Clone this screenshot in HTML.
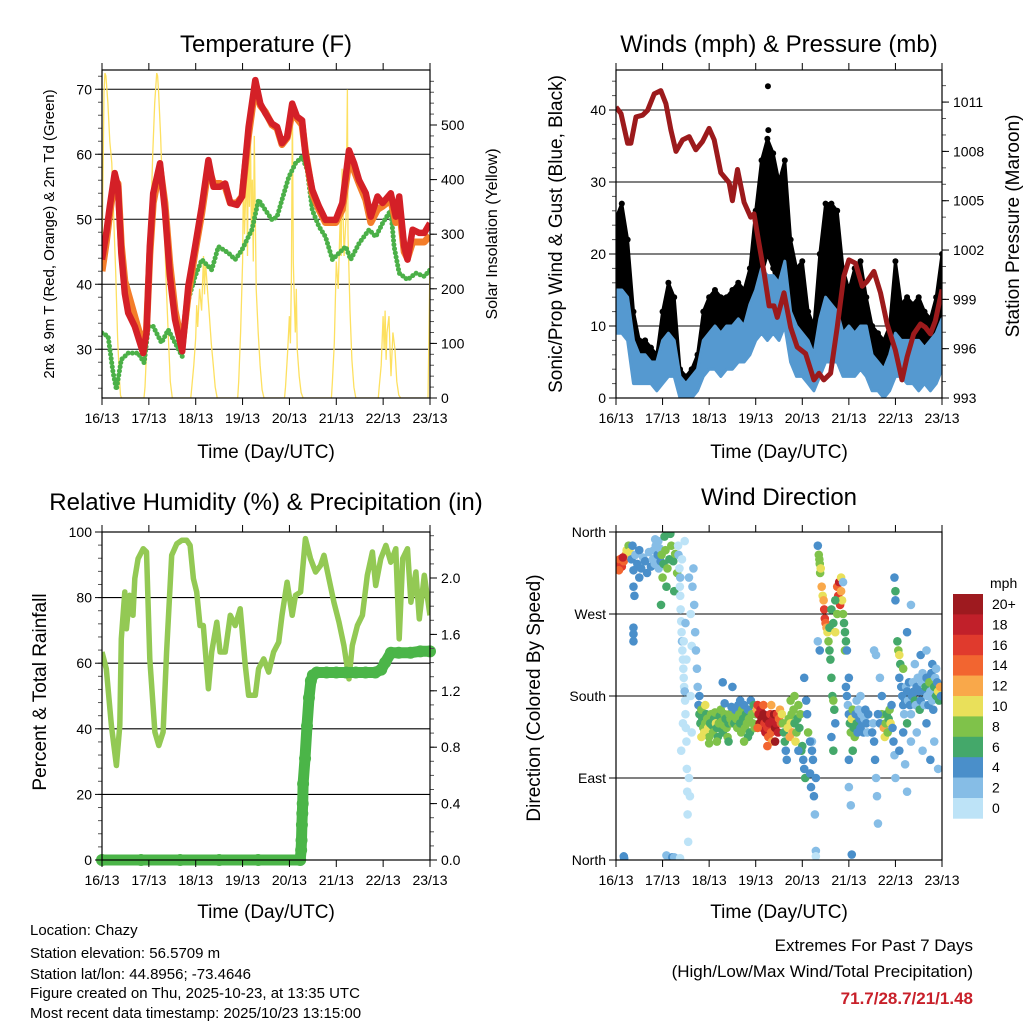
<!DOCTYPE html>
<html><head><meta charset="utf-8"><title>Chazy station charts</title>
<style>
html,body{margin:0;padding:0;background:#fff;}
svg{display:block;font-family:"Liberation Sans",Arial,sans-serif;}
</style></head>
<body>
<svg id="chart" xmlns="http://www.w3.org/2000/svg" width="1024" height="1024" viewBox="0 0 1024 1024">
<rect x="0" y="0" width="1024" height="1024" fill="#fff"/>
<text x="266" y="52" font-size="24" text-anchor="middle">Temperature (F)</text>
<text x="779" y="52" font-size="24" text-anchor="middle">Winds (mph) &amp; Pressure (mb)</text>
<text x="266" y="510" font-size="24" text-anchor="middle">Relative Humidity (%) &amp; Precipitation (in)</text>
<text x="779" y="505" font-size="24" text-anchor="middle">Wind Direction</text>
<text x="266" y="458" font-size="19" text-anchor="middle">Time (Day/UTC)</text>
<text x="779" y="458" font-size="19" text-anchor="middle">Time (Day/UTC)</text>
<text x="266" y="918" font-size="19" text-anchor="middle">Time (Day/UTC)</text>
<text x="779" y="918" font-size="19" text-anchor="middle">Time (Day/UTC)</text>
<text transform="translate(54,234) rotate(-90)" font-size="15" text-anchor="middle">2m &amp; 9m T (Red, Orange) &amp; 2m Td (Green)</text>
<text transform="translate(497,234) rotate(-90)" font-size="16" text-anchor="middle">Solar Insolation (Yellow)</text>
<text transform="translate(562,234) rotate(-90)" font-size="19" text-anchor="middle">Sonic/Prop Wind &amp; Gust (Blue, Black)</text>
<text transform="translate(1019,226) rotate(-90)" font-size="19" text-anchor="middle">Station Pressure (Maroon)</text>
<text transform="translate(46,692) rotate(-90)" font-size="19" text-anchor="middle">Percent &amp; Total Rainfall</text>
<text transform="translate(540,698) rotate(-90)" font-size="19" text-anchor="middle">Direction (Colored By Speed)</text>
<g font-size="15">
<text x="30" y="935">Location: Chazy</text>
<text x="30" y="958">Station elevation: 56.5709 m</text>
<text x="30" y="979">Station lat/lon: 44.8956; -73.4646</text>
<text x="30" y="998">Figure created on Thu, 2025-10-23, at 13:35 UTC</text>
<text x="30" y="1018">Most recent data timestamp: 2025/10/23 13:15:00</text>
</g>
<text x="973" y="951" font-size="17" text-anchor="end">Extremes For Past 7 Days</text>
<text x="973" y="977" font-size="17" text-anchor="end">(High/Low/Max Wind/Total Precipitation)</text>
<text x="973" y="1004" font-size="17" font-weight="bold" fill="#c8202a" text-anchor="end">71.7/28.7/21/1.48</text>
<text x="990" y="588" font-size="14" text-anchor="start">mph</text>
</svg>
<script>
// ---------- data ----------
const dayLabels = ["16/13","17/13","18/13","19/13","20/13","21/13","22/13","23/13"];
const tempHours = [0,2.2,4,6.5,8.2,9.9,11.7,13.4,16.8,21.1,22.8,24.5,26.2,29.7,32.2,34.8,37.4,41.1,44.2,47.7,51.1,54.5,57.1,60.5,63.1,65.7,69.1,71.7,75.1,78.5,81.1,83.7,87.1,89.7,92.2,94.8,97.4,99.9,102.5,104.2,107.7,111.1,114.5,119.7,123.1,126.5,129.1,131.7,135.1,137.7,141.1,143.7,147.9,150.5,152.2,154.8,156.5,159.1,162.5,165.1,168];
const temp2m = [43.8,47.9,52,57.1,55,44.8,38.6,35.6,33.5,29.4,32.5,45.8,54,58.6,51.4,41.2,34.6,29.7,39.7,45.8,52,59.1,55,55,55.5,52.5,52.2,53.5,64.2,71.4,67.8,66.3,64.7,64.2,61.7,62.7,67.8,65.8,65.2,60.1,54.5,52,49.9,49.9,52.5,60.6,58.6,56,54,50.4,53.5,52.5,54,50.4,53.5,45.8,43.8,48.4,47.9,47.9,49.4];
const temp9m = [42,46.5,51,56,55.5,46,40.5,38.6,35,30.5,33,44.5,52.5,58,52.5,43,36,30.5,38.5,45,51,58,55.5,55.5,55,52.5,52.5,53.5,63,70.5,67.5,66.5,64.5,64,61.5,62.5,66.5,65.5,64.5,60.5,54,51.5,49.5,49.5,51.5,59,57.5,55.5,53,49.5,51.5,52,53,49.5,52,45,44,46.5,46.5,46.5,47.5];
const dewHours = [0,3.1,5.7,7.4,9.9,13.4,18.5,21.6,23.7,26.2,30.5,33.9,37.4,41.1,44.2,47.7,51.1,56.2,59.6,64.8,68.2,71.7,76.8,80.2,83.7,87.1,89.7,92.2,95.7,99.1,102.5,105.1,107.7,111.1,114.5,118,121.4,124.8,127.4,131.7,136.8,140.2,143.7,147.9,149.6,152.2,156.5,160.8,165.1,168];
const dewPoint = [32.5,32,26.4,23.8,28.4,29.4,29.4,27.9,33.5,33.5,31,33,31,28.9,37.6,41.2,43.8,42.2,45.8,44.8,43.8,45.3,48.4,53,51.4,49.9,50.4,53,56.5,58.6,59.6,57.6,51.4,48.9,47.3,43.8,44.8,45.8,43.8,46.3,48.4,47.3,49.4,51.4,45.8,41.7,40.7,41.7,41.2,42.2];
const solarHours = [0,1,1.5,2,3,4,5,6,7,8,9,9.5,10,21.5,22,23,24,25,26,27,28,28.5,29,30,31,32,33,34,35,36,45.5,46,47,48,48.5,49,50,51,52,52.5,53,54,55,56,57,58,59,69.5,70,71,72,72.5,73,74,74.5,75,75.5,76,76.5,77,77.5,78,79,80,81,82,83,93.5,94,95,96,96.5,97,97.5,98,98.5,99,99.5,100,101,102,103,117.5,118,119,120,121,122,122.5,123,124,125,125.7,126,127,128,129,130,141.5,142,143,144,144.5,145,145.5,146,147,147.5,148,149,150,151,152,153,167,168];
const solarValues = [250,560,595,590,540,470,430,330,230,110,30,5,0,0,20,100,200,330,450,540,595,590,560,480,380,300,200,110,30,0,0,20,60,110,170,130,200,160,260,190,250,200,150,100,60,20,0,0,30,120,250,420,300,420,260,480,350,500,300,400,250,480,200,120,60,15,0,0,20,80,150,100,220,540,250,180,120,200,90,40,10,0,0,30,100,250,200,330,260,420,260,330,565,300,160,70,20,0,0,20,60,150,90,160,70,120,150,90,40,120,90,30,5,0,0,250];
const windHours = [0,3,6,9,12,15,18,21,24,27,30,33,36,39,42,45,48,51,54,57,60,63,66,69,72,75,78,81,84,87,90,93,96,99,102,105,108,111,114,117,120,123,126,129,132,135,138,141,144,147,150,153,156,159,162,165,168];
const windLow = [9,9,8,2,2,2,2,1,2,3,3,0,0,0,1,3,4,4,3,4,4,5,5,6,8,9,8,9,8,10,5,3,3,2,1,3,5,5,5,3,3,3,4,3,1,1,0,1,3,3,2,2,1,2,1,2,4];
const windHigh = [15,15,14,8,6,6,5,5,8,9,8,3,2,3,4,8,9,10,9,10,10,11,10,13,15,18,17,17,16,19,12,10,9,8,6,11,14,13,12,9,10,9,10,10,6,5,4,6,9,8,8,8,8,7,8,9,11];
const gustLow = [14,13,12,4,4,4,3,3,4,7,6,1,1,1,2,5,7,7,6,8,8,9,8,10,13,17,20,18,14,16,10,7,6,5,3,8,12,12,10,7,6,7,8,7,3,3,2,3,7,6,5,5,4,5,4,5,8];
const gustHigh = [25,27,22,12,8,8,7,6,12,16,14,4,3,4,6,12,14,15,14,14,15,16,15,18,26,33,36,34,30,33,22,18,19,12,10,20,27,27,26,18,15,18,19,14,10,9,8,10,19,13,14,13,14,12,11,14,20];
const gustOutlierHours = [78.3,78.5,80.5];
const gustOutlierValues = [43.3,37.2,31.5];
const pressHours = [0,2.6,6,7.7,10.3,13.7,16.3,19.7,23.1,25.7,28.3,30.9,34.3,37.7,41.1,44.6,48,50.6,54,58.3,60,62.6,66,69.4,71.1,73.7,76.3,78.9,81.4,83.1,86.6,90,93.4,97.7,102,104.6,107.1,110.6,114,117.4,120,123.4,126.9,129.4,132.9,136.3,139.7,144,147.4,150,153.4,156.9,159.4,162,164.6,168];
const pressValues = [1010.7,1010.3,1008.5,1008.5,1010.1,1010.2,1010.5,1011.5,1011.7,1010.9,1009.3,1008.0,1008.7,1008.9,1008.1,1008.6,1009.4,1008.7,1006.7,1006.1,1005.0,1006.9,1004.9,1004.0,1004.2,1002.4,1000.6,998.6,998.6,997.9,999.4,997.3,996.1,995.7,994.1,994.5,994.1,994.5,997.3,1000.4,1001.4,1001.2,999.8,1000.1,1000.7,999.4,997.5,995.9,994.1,995.5,996.9,997.5,997.3,996.9,997.7,999.6];
const rhHours = [0,2.2,4.8,7.4,9.1,9.9,11.7,12.5,14.2,15.9,16.8,18.5,21.1,22.8,24.5,27.1,29.1,31.3,33.1,35.7,38.3,40.9,43.4,45.1,46.8,48.5,50.2,51.9,54.5,56.2,58.8,60.5,63.1,65.7,68.2,70.8,73.4,75.1,78.5,80.2,82.8,85.4,87.9,90.5,92.2,94.8,97.4,99.1,101.7,104.2,106.8,109.4,111.9,113.7,116.2,118.8,121.4,123.9,126.5,128.2,130.8,133.4,135.9,138.5,140.2,142.8,145.4,147.9,150.5,152.2,154,156.5,158.2,160.8,162.5,165.1,168];
const rhValues = [63.4,58.3,41,28.8,41,67.4,81.7,70.5,80.7,74.6,85.8,91.9,94.9,93.9,61.3,39,34.9,39,63.4,92.9,96.4,97.5,97.5,95.9,85.8,81.7,71.5,71.5,52.2,63.4,72.5,63.4,63.4,74.6,71.5,76.6,59.3,50.2,50.2,58.3,61.3,57.3,63.4,66.4,74.6,84.7,74.6,80.7,81.7,98,91.9,87.8,89.8,92.9,85.8,78.6,72.5,65.4,55.2,65.4,71.5,74.6,86.8,93.9,83.7,91.9,95.9,90.8,94.9,67.4,91.9,94.9,78.6,87.8,73.5,86.8,74.6];
const rainHours = [0,20,40,60,80,101.5,102,102.2,102.4,102.6,102.8,103,104,105,106,107,108,110,115,120,125,130,135,140,143,145,148,152,158,163,168];
const rainValues = [0,0,0,0,0,0,0.07,0.14,0.25,0.33,0.4,0.54,0.72,0.95,1.15,1.27,1.31,1.33,1.33,1.33,1.33,1.33,1.33,1.33,1.35,1.4,1.47,1.47,1.47,1.48,1.48];
const dirHours = [1,2,3,4,5,5.5,1.5,3.5,6.5,7,
 8,9,10,11,12,13,14,15,16,17,18,19,9,9,9,9,9.5,12,8.5,
 19.5,20,20.5,21,21.5,22,22.5,23,20.2,21.8,
 23.5,24.5,25.5,26.5,27.5,28.5,29.5,30.5,25,28,24,26,30,23.2,31.5,
 32,32.2,32.7,32.9,33.1,33.3,33.6,33.8,34,34.2,34.5,34.7,34.9,35.1,35.4,35.6,35.8,36,36.3,36.5,36.7,36.9,37.2,37.6,38.1,38.5,39,39.4,39.9,40.3,40.8,41.2,41.7,42.1,42.6,43,33.1,34,35.4,34.5,33.6,37.6,38.5,39,34.9,35.8,36.3,
 42.5,43,43.5,44,44.5,45,45.5,46,46.5,47,47.5,48,48.5,49,49.5,50,50.5,51,51.5,52,52.5,53,53.5,54,54.5,55,55.5,56,56.5,57,57.5,58,58.5,59,59.5,60,44,46,48,52,56,58,55,60,
 60.5,61,61.5,62,62.5,63,63.5,64,64.5,65,65.5,66,66.5,67,67.5,68,68.5,69,69.5,70,70.5,71,71.5,72,64,68,66,
 72.5,73,73.5,74,74.5,75,75.5,76,76.5,77,77.5,78,78.5,79,79.5,80,80.5,81,81.5,82,82.5,83,83.5,84,84.5,85,85.5,73,76,80,82,78,
 86,86.5,87,87.5,88,88.5,89,89.5,90,90.5,91,91.5,92,92.5,93,93.5,94,94.5,95,95.5,96,96.5,97,97.5,98,98.5,99,90,92,94,97,
 100,100.5,101,101.5,102,102.5,103,101,100,103,
 104,104.5,104.8,105,105.2,105.5,106,106.5,107,107.3,107.6,108,108.5,109,109.5,110,110.5,111,111.5,112,112.5,113,104,105,110,111,112,113,114,114.5,115,115.5,116,116.5,117,117.5,118,118.5,113,114,118,116,117,112,111,
 118.5,119,119.5,120,120.5,121,121.5,122,122.5,123,123.5,124,124.5,125,125.5,126,126.5,127,127.5,128,128.5,129,129.5,130,120,121,120,122,124,126,119,120,
 132,132.5,133,133.5,134,134.5,135,133,134,136,137,138,138.5,139,139.5,140,140.5,141,141.5,142,142.5,143,143.5,144,136,137,135,
 143.5,144,144,145,145.5,146,146.5,146,147,147.5,148,148.5,149,149.5,150,150.5,151,151.5,152,152.5,153,153.5,154,154.5,155,155.5,156,156.5,157,157.5,158,158.5,159,159.5,160,160.5,161,161.5,162,162.5,163,163.5,164,164.5,165,165.5,166,166.5,167,167.5,148,150,152,155,158,160,162,164,166,149,150,152,154,157,160,163,165,148,150,146,
 4,4.2,26,29,30,33,103,121.5];
const dirDegrees = [325,330,322,328,335,340,318,332,345,338,
 330,318,335,325,340,320,332,328,315,338,322,330,300,255,240,248,290,310,345,
 340,325,345,330,335,320,342,328,352,350,
 335,325,340,320,330,345,328,336,355,358,310,300,295,280,315,
 345,335,320,300,290,275,262,250,240,230,220,210,200,190,185,175,160,145,130,100,75,50,20,90,70,180,235,300,320,280,250,230,210,190,170,180,310,330,350,150,120,310,270,140,240,260,220,
 170,160,150,165,155,145,140,150,160,155,145,135,150,160,148,140,155,162,150,145,135,150,158,165,152,140,148,160,155,145,135,150,160,155,168,150,135,170,128,130,172,130,195,190,
 160,150,165,155,145,170,160,150,140,165,155,170,145,160,150,165,155,140,175,160,150,170,145,160,175,135,130,
 165,170,160,150,165,155,145,160,150,140,155,145,135,150,160,140,130,155,160,145,150,160,140,155,165,150,160,145,170,170,130,125,
 150,140,130,120,110,145,155,135,150,160,140,165,150,130,140,155,170,145,160,120,125,110,100,90,175,160,140,175,180,120,200,
 95,80,120,110,70,50,10,130,130,90,
 345,335,330,325,315,320,300,290,285,275,265,260,255,250,240,230,220,200,180,175,165,150,240,230,255,275,260,250,300,290,305,280,295,285,270,260,250,240,285,270,230,310,305,120,135,
 190,180,170,160,150,140,155,165,145,135,160,150,140,165,155,145,160,150,140,155,165,150,140,160,110,60,80,120,175,180,230,200,
 140,150,130,110,90,70,40,230,225,150,160,145,135,150,160,140,155,165,150,170,145,130,115,90,200,180,160,
 310,295,285,240,230,225,215,200,190,180,170,160,175,190,185,175,195,170,160,180,195,185,175,170,190,200,185,165,175,195,205,185,170,190,200,180,170,195,185,205,175,165,190,200,180,195,185,175,190,180,140,150,130,140,120,150,110,130,100,105,250,280,215,225,230,215,210,210,75,120,
 4,2,5,3,3,2,4,6];
const dirSpeeds = [16,15,17,14,12,10,14,18,8,11,
 4,4,2,4,4,4,2,4,4,2,4,2,4,4,4,4,4,4,4,
 2,2,2,2,4,2,2,4,2,2,
 8,6,8,8,6,8,6,8,6,6,8,6,6,6,8,
 0,2,0,0,0,0,0,0,2,0,0,0,0,0,2,0,0,0,0,0,0,0,0,0,0,0,0,2,2,2,2,2,2,2,2,4,2,0,0,0,0,2,0,0,0,2,0,
 4,6,6,8,6,8,10,8,6,8,10,8,6,8,6,8,6,8,10,6,6,8,6,8,8,6,8,8,6,8,8,6,8,8,4,8,10,10,8,8,4,6,4,4,
 8,6,4,8,8,4,8,6,8,8,6,4,8,6,8,4,8,6,4,8,8,6,8,8,4,6,8,
 12,16,18,20,18,20,18,20,16,18,20,16,14,18,16,14,12,18,20,20,18,16,18,14,12,14,10,14,14,12,20,14,
 8,6,6,4,4,10,8,12,10,8,12,8,6,10,8,6,8,6,8,6,6,4,4,6,4,4,8,8,8,4,4,
 4,4,4,4,4,2,2,2,4,4,
 4,8,8,8,8,10,12,10,12,16,16,14,12,10,8,6,6,6,6,8,6,4,2,4,6,6,6,10,14,16,18,16,12,10,8,6,6,6,6,8,8,10,2,6,4,
 4,4,2,4,6,8,10,8,6,8,4,6,4,2,4,4,2,4,4,2,4,4,2,4,4,2,2,6,2,2,4,4,
 4,2,4,4,2,2,2,2,2,4,8,12,10,8,6,8,6,8,10,4,4,4,2,2,2,4,4,
 4,6,4,6,8,10,6,4,4,4,4,2,4,2,4,2,4,4,2,4,2,4,6,2,4,2,4,6,4,2,2,4,2,6,4,2,4,8,2,4,2,4,6,2,6,4,10,6,12,4,4,6,2,2,2,4,4,2,2,2,4,2,2,4,2,4,2,8,2,4,
 4,4,2,4,2,0,0,4];
const speedBinLabels = ["20+","18","16","14","12","10","8","6","4","2","0"];
const speedColors = ["#bde3f7","#86bde6","#4a8fca","#44a86a","#7fc24a","#e9e05a","#f9a84a","#f26530","#e03a2d","#c1202a","#9e1a1f"];

// ---------- helpers ----------
const NS = "http://www.w3.org/2000/svg";
const svg = document.getElementById("chart");
function mk(tag, attrs, parent) {
  const e = document.createElementNS(NS, tag);
  for (const k in attrs) e.setAttribute(k, attrs[k]);
  (parent || svg).appendChild(e);
  return e;
}
function pathD(xs, ys) {
  let d = "";
  for (let i = 0; i < xs.length; i++) d += (i ? "L" : "M") + xs[i].toFixed(1) + "," + ys[i].toFixed(1);
  return d;
}
const P1 = {L:102, R:430, T:70, B:398};
const P2 = {L:616, R:942, T:70, B:398};
const P3 = {L:102, R:430, T:532, B:860};
const P4 = {L:616, R:942, T:532, B:860};
function xScale(P) { return h => P.L + h * (P.R - P.L) / 168; }
const x1 = xScale(P1), x2 = xScale(P2), x3 = xScale(P3), x4 = xScale(P4);
const yTemp = v => 398 - (v - 22.5) * 6.5;
const ySolar = v => 398 - v * 0.546;
const yWind = v => 398 - v * 7.2;
const yPress = p => 398 - (p - 993) * 16.44;
const yRH = v => 860 - v * 3.28;
const yRain = r => 860 - r * 141;
const yDir = d => 860 - d * 328 / 360;

// clip paths
const defs = mk("defs", {});


[P1, P2, P3, P4].forEach((P, i) => {
  const cp = mk("clipPath", {id: "clip" + (i + 1)}, defs);
  
  
  const r = mk("rect", {x: P.L, y: P.T, width: P.R - P.L, height: P.B - P.T}, cp);
  
  
});

function grid(P, vals, yf, name) {
  vals.forEach(v => {
    const y = yf(v);
    const l = mk("line", {x1: P.L, x2: P.R, y1: y, y2: y, stroke: "#000", "stroke-width": 1.1});
    
    
  });
}
function axes(P, xf, cfg) {
  const g = mk("g", {"font-size": 14, fill: "#000"});
  
  
  dayLabels.forEach((lab, i) => {
    const x = xf(i * 24);
    const tb = mk("line", {x1: x, x2: x, y1: P.B, y2: P.B + 7, stroke: "#000", "stroke-width": 1}, g);
    
    
    const tt = mk("line", {x1: x, x2: x, y1: P.T, y2: P.T - 7, stroke: "#000", "stroke-width": 1}, g);
    
    
    const t = mk("text", {x: x, y: P.B + 25, "text-anchor": "middle"}, g);
    t.textContent = lab;
    
    
  });
  cfg.leftMinor.forEach(v => {
    const y = cfg.yl(v);
    const m = mk("line", {x1: P.L - 4, x2: P.L, y1: y, y2: y, stroke: "#555", "stroke-width": 1}, g);
    
    
  });
  cfg.leftMajor.forEach((v, i) => {
    const y = cfg.yl(v);
    const m = mk("line", {x1: P.L - 7, x2: P.L, y1: y, y2: y, stroke: "#000", "stroke-width": 1}, g);
    
    
    const t = mk("text", {x: P.L - 10, y: y + 5, "text-anchor": "end"}, g);
    t.textContent = cfg.leftLabels[i];
    
    
  });
  if (cfg.yr) {
    cfg.rightMinor.forEach(v => {
      const y = cfg.yr(v);
      const m = mk("line", {x1: P.R, x2: P.R + 4, y1: y, y2: y, stroke: "#555", "stroke-width": 1}, g);
      
      
    });
    cfg.rightMajor.forEach((v, i) => {
      const y = cfg.yr(v);
      const m = mk("line", {x1: P.R, x2: P.R + 7, y1: y, y2: y, stroke: "#000", "stroke-width": 1}, g);
      
      
      const t = mk("text", {x: P.R + 11, y: y + 5, "text-anchor": "start"}, g);
      t.textContent = cfg.rightLabels[i];
      
      
    });
  }
  const fr = mk("rect", {x: P.L, y: P.T, width: P.R - P.L, height: P.B - P.T, fill: "none", stroke: "#000", "stroke-width": 1.2}, g);
  
  
}
function range(a, b, s) { const r = []; for (let v = a; v <= b + 1e-9; v += s) r.push(+v.toFixed(3)); return r; }

// ---------- Panel 1: Temperature ----------
grid(P1, [30, 40, 50, 60, 70], yTemp, 'temperature');
const g1 = mk("g", {"clip-path": "url(#clip1)"});


const solar = mk("path", {d: pathD(solarHours.map(x1), solarValues.map(ySolar)), fill: "none", stroke: "#fde060", "stroke-width": 1.3}, g1);


const dew = mk("path", {d: pathD(dewHours.map(x1), dewPoint.map(yTemp)), fill: "none", stroke: "#4bb048", "stroke-width": 5, "stroke-linecap": "round", "stroke-dasharray": "0 4.2"}, g1);


const t9 = mk("path", {d: pathD(tempHours.map(x1), temp9m.map(yTemp)), fill: "none", stroke: "#f47d2a", "stroke-width": 7, "stroke-linejoin": "round"}, g1);


const t2 = mk("path", {d: pathD(tempHours.map(x1), temp2m.map(yTemp)), fill: "none", stroke: "#d42027", "stroke-width": 6.5, "stroke-linejoin": "round"}, g1);


axes(P1, x1, {name: 'temperature', yl: yTemp, leftMajor: [30,40,50,60,70], leftLabels: ["30","40","50","60","70"], leftMinor: range(24, 72, 2),
  yr: ySolar, rightMajor: [0,100,200,300,400,500], rightLabels: ["0","100","200","300","400","500"], rightMinor: range(0, 590, 20)});

// ---------- Panel 2: Winds & Pressure ----------
grid(P2, [10, 20, 30, 40], yWind, 'winds');
const g2 = mk("g", {"clip-path": "url(#clip2)"});


const gx = windHours.map(x2);
const gustBand = mk("path", {d: pathD(gx.concat(gx.slice().reverse()), gustHigh.map(yWind).concat(gustLow.map(yWind).reverse())) + "Z", fill: "#000", stroke: "#000", "stroke-width": 3, "stroke-linejoin": "round"}, g2);


windHours.forEach((h, i) => {
  [gustHigh[i], gustLow[i]].forEach(v => {
    const c = mk("circle", {cx: x2(h), cy: yWind(v), r: 3, fill: "#000"}, g2);
    
    
  });
});
gustOutlierHours.forEach((h, i) => {
  const c = mk("circle", {cx: x2(h), cy: yWind(gustOutlierValues[i]), r: 3, fill: "#000"}, g2);
  
  
});
const windBand = mk("path", {d: pathD(gx.concat(gx.slice().reverse()), windHigh.map(yWind).concat(windLow.map(yWind).reverse())) + "Z", fill: "#5599d0", stroke: "#5599d0", "stroke-width": 3, "stroke-linejoin": "round"}, g2);


const press = mk("path", {d: pathD(pressHours.map(x2), pressValues.map(yPress)), fill: "none", stroke: "#9c1a1c", "stroke-width": 5, "stroke-linejoin": "round"}, g2);


axes(P2, x2, {name: 'winds', yl: yWind, leftMajor: [0,10,20,30,40], leftLabels: ["0","10","20","30","40"], leftMinor: range(0, 44, 2),
  yr: yPress, rightMajor: [993,996,999,1002,1005,1008,1011], rightLabels: ["993","996","999","1002","1005","1008","1011"], rightMinor: range(993, 1012, 1)});

// ---------- Panel 3: RH & Precip ----------
grid(P3, [20, 40, 60, 80], yRH, 'humidity');
const g3 = mk("g", {"clip-path": "url(#clip3)"});


const g3b = mk("g", {});


const rh = mk("path", {d: pathD(rhHours.map(x3), rhValues.map(yRH)), fill: "none", stroke: "#93c954", "stroke-width": 5.5, "stroke-linejoin": "round"}, g3);


const rain = mk("path", {d: pathD(rainHours.map(x3), rainValues.map(yRain)), fill: "none", stroke: "#4bb548", "stroke-width": 11, "stroke-linejoin": "round", "stroke-linecap": "round"}, g3b);


rainHours.forEach((h, i) => {
  const c = mk("circle", {cx: x3(h), cy: yRain(rainValues[i]), r: 6, fill: "#4bb548"}, g3b);
  
  
});
axes(P3, x3, {name: 'humidity', yl: yRH, leftMajor: [0,20,40,60,80,100], leftLabels: ["0","20","40","60","80","100"], leftMinor: range(0, 100, 4),
  yr: yRain, rightMajor: [0,0.4,0.8,1.2,1.6,2.0], rightLabels: ["0.0","0.4","0.8","1.2","1.6","2.0"], rightMinor: range(0, 2.3, 0.1)});

// ---------- Panel 4: Wind direction ----------
grid(P4, [90, 180, 270], yDir, 'direction');
const g4 = mk("g", {"clip-path": "url(#clip4)"});


dirHours.forEach((h, i) => {
  const bin = Math.min(10, Math.floor(dirSpeeds[i] / 2));
  const c = mk("circle", {cx: x4(h), cy: yDir(dirDegrees[i]), r: 4.3, fill: speedColors[bin]}, g4);
  
  
});
axes(P4, x4, {name: 'direction', yl: yDir, leftMajor: [0,90,180,270,360], leftLabels: ["North","East","South","West","North"], leftMinor: []});

// colorbar
const cbTop = 594, cbH = 20.4;
speedBinLabels.forEach((lab, i) => {
  const y = cbTop + i * cbH;
  const r = mk("rect", {x: 953, y: y, width: 30, height: cbH + 0.3, fill: speedColors[10 - i]});
  
  
  const t = mk("text", {x: 992, y: y + 15, "font-size": 14});
  t.textContent = lab;
  
  
});
</script>
</body></html>
